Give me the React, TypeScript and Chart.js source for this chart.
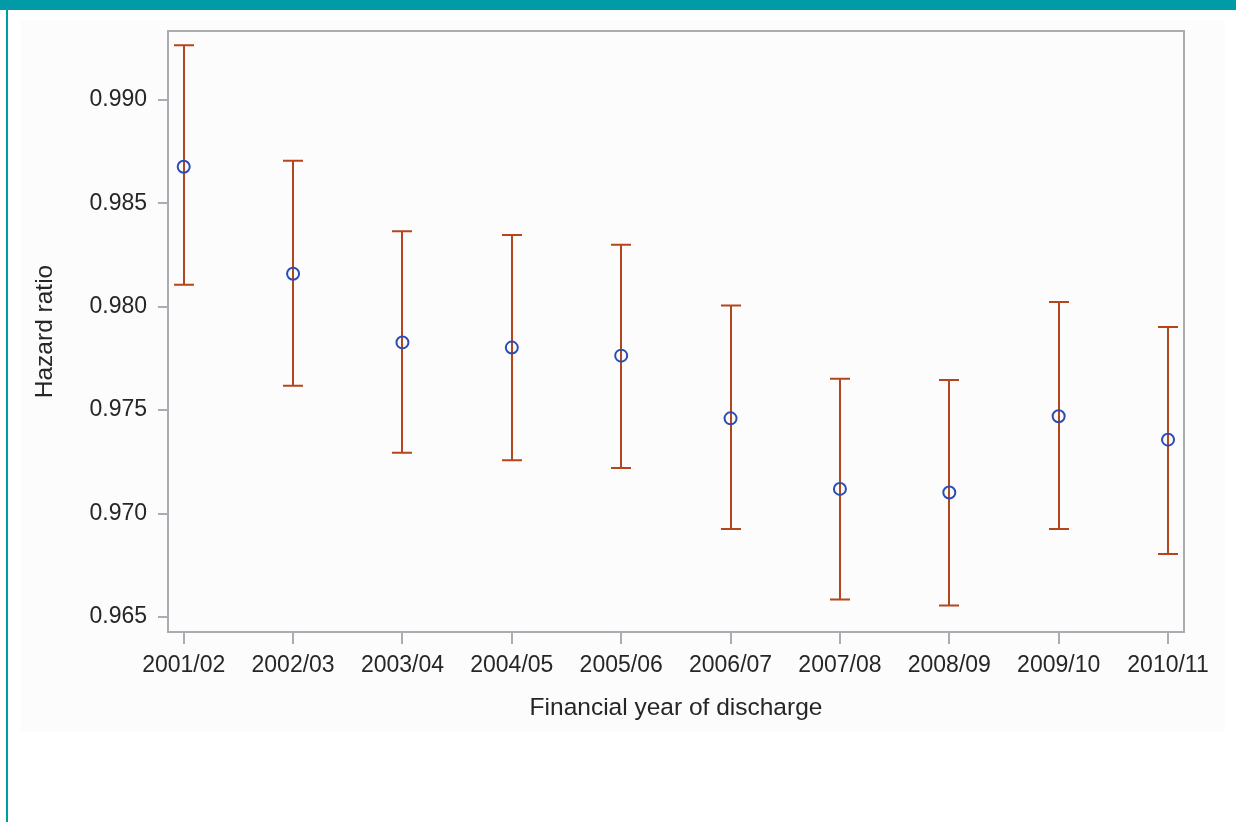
import React, { useEffect, useRef } from 'react';
import { Chart, registerables } from 'chart.js';

Chart.register(...registerables);

const categories = ['2001/02', '2002/03', '2003/04', '2004/05', '2005/06', '2006/07', '2007/08', '2008/09', '2009/10', '2010/11'];
const hazardRatio = [0.98676, 0.98159, 0.97827, 0.97802, 0.97763, 0.9746, 0.97119, 0.97102, 0.9747, 0.97357];
const upperCI = [0.99263, 0.98705, 0.98364, 0.98346, 0.98299, 0.98005, 0.97652, 0.97645, 0.98022, 0.97902];
const lowerCI = [0.98106, 0.97618, 0.97294, 0.97257, 0.9722, 0.96925, 0.96584, 0.96556, 0.96925, 0.96804];
const yTicks = [0.965, 0.97, 0.975, 0.98, 0.985, 0.99];
const yMin = 0.964275;
const yMax = 0.99332;
const xMin = -0.1436;
const xMax = 9.146;

const FRAME = '#a9adb1';
const ERR_COLOR = '#b4461e';
const MARKER = '#2a4cb4';
const TEXT = '#262626';
const FONT = '"Liberation Sans", Arial, sans-serif';

const errorBarPlugin = {
  id: 'errorBars',
  beforeDatasetsDraw(chart: any) {
    const { ctx, scales } = chart;
    const x = scales.x;
    const y = scales.y;
    ctx.save();
    ctx.strokeStyle = ERR_COLOR;
    ctx.lineWidth = 2;
    categories.forEach((_, i) => {
      const px = Math.round(x.getPixelForValue(i));
      const top = y.getPixelForValue(upperCI[i]);
      const bot = y.getPixelForValue(lowerCI[i]);
      ctx.beginPath();
      ctx.moveTo(px, top);
      ctx.lineTo(px, bot);
      ctx.moveTo(px - 10, top);
      ctx.lineTo(px + 10, top);
      ctx.moveTo(px - 10, bot);
      ctx.lineTo(px + 10, bot);
      ctx.stroke();
    });
    ctx.restore();
  },
};

const framePlugin = {
  id: 'frame',
  beforeDatasetsDraw(chart: any) {
    const { ctx, chartArea } = chart;
    const { left, top, right, bottom } = chartArea;
    ctx.save();
    ctx.strokeStyle = FRAME;
    ctx.lineWidth = 2;
    ctx.strokeRect(left, top, right - left, bottom - top);
    ctx.restore();
  },
};

function App() {
  const canvasRef = useRef<HTMLCanvasElement | null>(null);

  useEffect(() => {
    if (!canvasRef.current) return;
    const chart = new Chart(canvasRef.current, {
      type: 'scatter',
      data: {
        datasets: [
          {
            label: 'Hazard ratio',
            data: hazardRatio.map((v, i) => ({ x: i, y: v })),
            pointStyle: 'circle',
            pointRadius: 6,
            pointBorderWidth: 2,
            pointBackgroundColor: 'rgba(0,0,0,0)',
            pointBorderColor: MARKER,
            showLine: false,
          },
        ],
      },
      options: {
        animation: false,
        responsive: false,
        devicePixelRatio: 1,
        layout: { padding: { top: 31, right: 52, left: 0, bottom: 0 } },
        plugins: {
          legend: { display: false },
          tooltip: { enabled: false },
        },
        scales: {
          x: {
            type: 'linear',
            min: xMin,
            max: xMax,
            afterBuildTicks: (s: any) => {
              s.ticks = categories.map((_, i) => ({ value: i }));
            },
            afterFit: (s: any) => {
              s.height = 190;
            },
            border: { display: false },
            grid: {
              drawOnChartArea: false,
              drawTicks: true,
              tickLength: 12,
              color: FRAME,
              lineWidth: 2,
            },
            ticks: {
              autoSkip: false,
              maxRotation: 0,
              padding: 8,
              color: TEXT,
              font: { family: FONT, size: 23 },
              callback: (v: any) => categories[Math.round(Number(v))] ?? '',
            },
            title: {
              display: true,
              text: 'Financial year of discharge',
              color: TEXT,
              font: { family: FONT, size: 24.5 },
              padding: { top: 0, bottom: 99 },
            },
          },
          y: {
            type: 'linear',
            min: yMin,
            max: yMax,
            afterBuildTicks: (s: any) => {
              s.ticks = yTicks.map((v) => ({ value: v }));
            },
            afterFit: (s: any) => {
              s.width = 168;
            },
            border: { display: false },
            grid: {
              drawOnChartArea: false,
              drawTicks: true,
              tickLength: 10,
              color: FRAME,
              lineWidth: 2,
            },
            ticks: {
              padding: 11,
              color: TEXT,
              font: { family: FONT, size: 23 },
              callback: (v: any) => Number(v).toFixed(3),
            },
            title: {
              display: true,
              text: 'Hazard ratio',
              color: TEXT,
              font: { family: FONT, size: 24.5 },
              padding: { top: 31, bottom: 0 },
            },
          },
        },
      },
      plugins: [framePlugin, errorBarPlugin],
    } as any);
    return () => chart.destroy();
  }, []);

  return (
    <div
      style={{
        position: 'absolute',
        left: 0,
        top: 0,
        width: 1236,
        height: 822,
        background: '#ffffff',
        overflow: 'hidden',
      }}
    >
      <div style={{ position: 'absolute', left: 0, top: 0, width: 1236, height: 10, background: '#009ba6' }} />
      <div style={{ position: 'absolute', left: 6, top: 10, width: 2, height: 812, background: '#009ba6' }} />
      <div style={{ position: 'absolute', left: 21, top: 20, width: 1204, height: 712, background: '#fcfcfc' }} />
      <canvas
        ref={canvasRef}
        width={1236}
        height={822}
        style={{ position: 'absolute', left: 0, top: 0, width: 1236, height: 822, display: 'block' }}
      />
    </div>
  );
}

export default App;
